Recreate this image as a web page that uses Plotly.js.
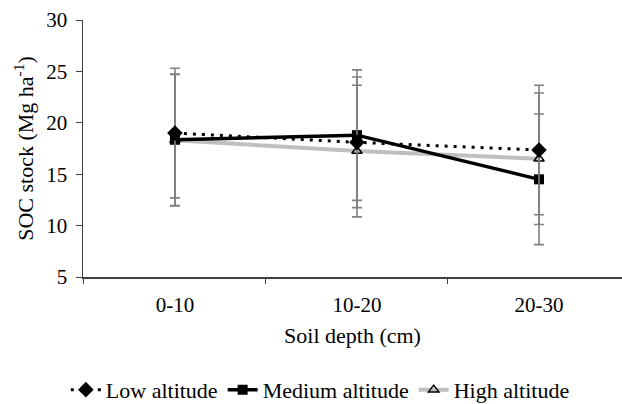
<!DOCTYPE html>
<html>
<head>
<meta charset="utf-8">
<script src="https://cdn.plot.ly/plotly-3.0.1.min.js"></script>
<style>html,body{margin:0;padding:0;background:#fff;}#chart{width:622px;height:404px;}</style>
</head>
<body>
<div id="chart"></div>
<script>
var depths = ["0-10", "10-20", "20-30"];
var lowAltitude = [19.0, 18.1, 17.35];
var lowError = [6.3, 6.35, 6.3];
var mediumAltitude = [18.35, 18.8, 14.5];
var mediumError = [6.4, 6.35, 6.35];
var highAltitude = [18.3, 17.25, 16.5];
var highError = [6.4, 6.4, 6.4];

var font = "Liberation Serif, Times New Roman, serif";
var fs = 22;
function eb(arr) {
  return {type: 'data', array: arr, visible: true, color: '#808080', thickness: 1.6, width: 5};
}
var traces = [
  {
    x: depths, y: highAltitude, name: 'High altitude', type: 'scatter', mode: 'lines+markers',
    line: {color: '#bfbfbf', width: 4},
    marker: {symbol: 'triangle-up-open', size: 9, color: '#000', line: {color: '#000', width: 1.5}},
    error_y: eb(highError)
  },
  {
    x: depths, y: mediumAltitude, name: 'Medium altitude', type: 'scatter', mode: 'lines+markers',
    line: {color: '#000', width: 3.5},
    marker: {symbol: 'square', size: 10, color: '#000'},
    error_y: eb(mediumError)
  },
  {
    x: depths, y: lowAltitude, name: 'Low altitude', type: 'scatter', mode: 'lines+markers',
    line: {color: '#000', width: 3, dash: '3px,6px'},
    marker: {symbol: 'diamond', size: 12, color: '#000'},
    error_y: eb(lowError)
  }
];
var layout = {
  width: 622, height: 404,
  margin: {l: 83, r: 0, t: 20, b: 127},
  paper_bgcolor: '#fff', plot_bgcolor: '#fff',
  font: {family: font, size: fs, color: '#000'},
  showlegend: true,
  legend: {orientation: 'h', x: 0.515, xanchor: 'center', xref: 'container', y: 0.035, yref: 'container', yanchor: 'middle',
           traceorder: 'reversed', font: {family: font, size: fs, color: '#000'}, itemwidth: 30},
  xaxis: {
    type: 'category', range: [-0.505, 2.456], tickson: 'boundaries',
    showline: true, linecolor: '#404040', linewidth: 1.5,
    ticks: 'outside', ticklen: 5, tickcolor: '#404040', showgrid: false, zeroline: false,
    ticklabelstandoff: 8,
    tickfont: {family: font, size: 21, color: '#000'},
    title: {text: 'Soil depth (cm)', font: {family: font, size: fs, color: '#000'}, standoff: 12}
  },
  yaxis: {
    range: [5, 30], dtick: 5, tick0: 5,
    showline: true, linecolor: '#404040', linewidth: 1.5,
    ticks: 'outside', ticklen: 6, tickcolor: '#404040', showgrid: false, zeroline: false,
    ticklabelstandoff: 4,
    tickfont: {family: font, size: 21, color: '#000'},
    title: {text: 'SOC stock (Mg ha<sup>-1</sup>)', font: {family: font, size: fs, color: '#000'}, standoff: 6}
  }
};
Plotly.newPlot('chart', traces, layout, {displayModeBar: false, staticPlot: true});
</script>
</body>
</html>
